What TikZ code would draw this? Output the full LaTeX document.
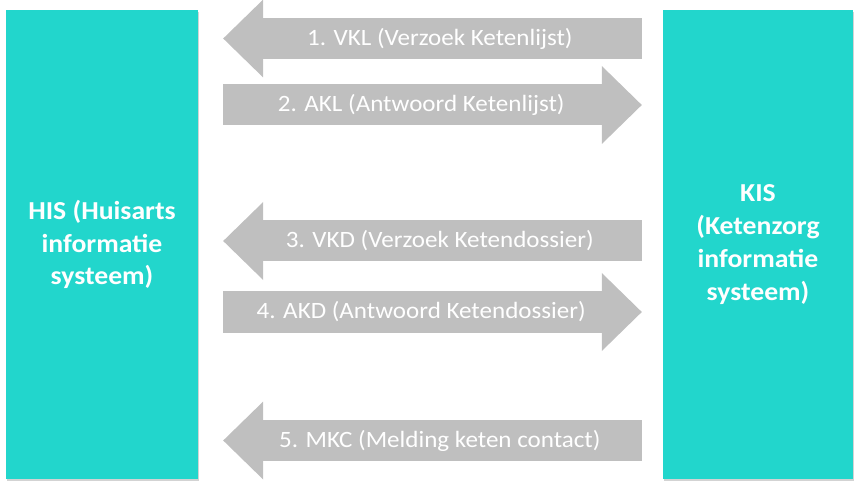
\documentclass[tikz,border=0pt]{standalone}
\usepackage{fontspec}
\setmainfont{Carlito}[FakeStretch=1.07]
\usetikzlibrary{arrows.meta,shadows}
\definecolor{systeal}{RGB}{34,214,204}
\definecolor{msggray}{RGB}{191,191,191}
\begin{document}
\begin{tikzpicture}[x=1bp,y=-1bp]
    % Define basic styles
    \tikzset{
        system/.style={
            rectangle,
            fill=systeal,
            text=white,
            minimum height=469bp,
            align=center,
            font=\fontsize{26}{33}\selectfont\bfseries,
            drop shadow={shadow xshift=0.6bp, shadow yshift=-1.6bp, opacity=0.35}
        },
        msg/.style={
            draw=msggray,
            line width=41bp,
            shorten <=21bp,
            shorten >=25bp,
            -{Triangle[width=78bp, length=40bp, line width=0pt]}
        },
        msgtext/.style={
            text=white,
            pos=0.48,
            font=\fontsize{23.5}{27}\selectfont
        }
    }
    \useasboundingbox (0,0) rectangle (862,487);

    % Systems
    \node[system, minimum width=192bp] (his) at (102,244.5) {HIS (Huisarts\\informatie\\systeem)};
    \node[system, minimum width=190bp] (kis) at (758,244.5) {KIS\\(Ketenzorg\\informatie\\systeem)};

    % Ketenlijst
    \draw[msg] (kis.west |- 0,38.5) -- (his.east |- 0,38.5)
        node[msgtext] (vkl) {1. VKL (Verzoek Ketenlijst)};
    \draw[msg, shorten <=25bp, shorten >=21bp] (his.east |- 0,105) -- (kis.west |- 0,105)
        node[msgtext] (akl) {2. AKL (Antwoord Ketenlijst)};

    % Ketendossier
    \draw[msg] (kis.west |- 0,241) -- (his.east |- 0,241)
        node[msgtext] (vkd) {3. VKD (Verzoek Ketendossier)};
    \draw[msg, shorten <=25bp, shorten >=21bp] (his.east |- 0,312) -- (kis.west |- 0,312)
        node[msgtext] (akd) {4. AKD (Antwoord Ketendossier)};

    % Contact
    \draw[msg] (kis.west |- 0,440.5) -- (his.east |- 0,440.5)
        node[msgtext] (mkc) {5. MKC (Melding keten contact)};
\end{tikzpicture}
\end{document}
